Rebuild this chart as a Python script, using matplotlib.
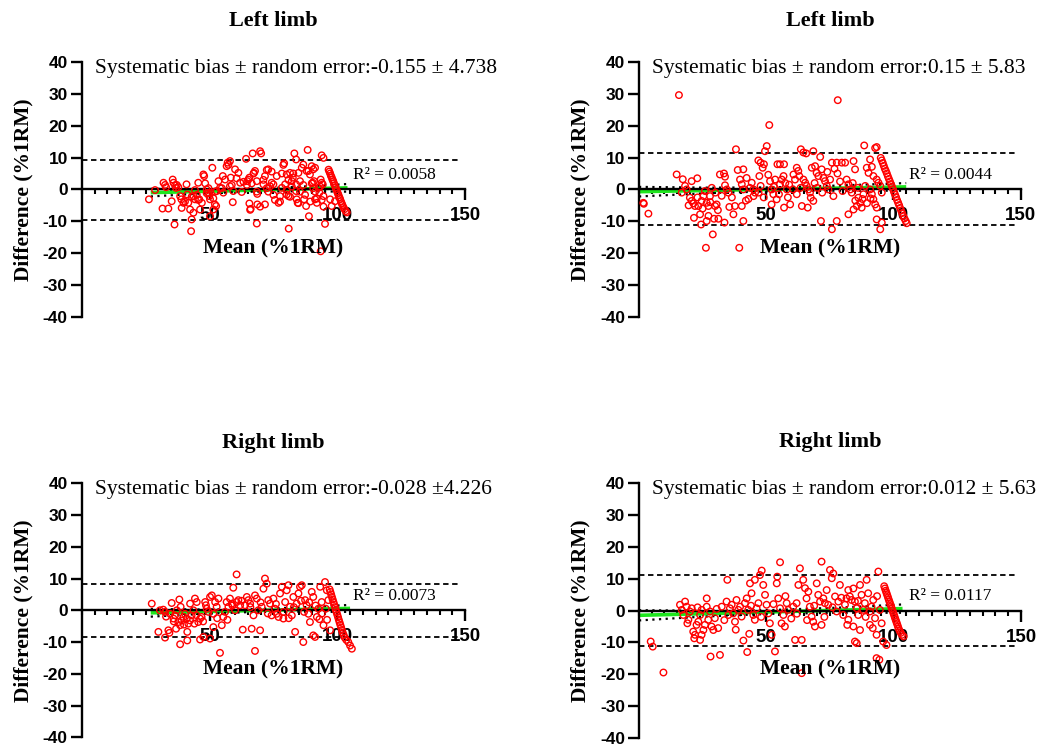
import numpy as np
import matplotlib
matplotlib.use("Agg")
import matplotlib.pyplot as plt
from matplotlib.ticker import MultipleLocator

plt.rcParams["axes.unicode_minus"] = False

SANS = "Liberation Sans"
SERIF = "Liberation Serif"

# ---- data: (mean %1RM, difference %1RM) ----
tl_points = [
    (26.3, -3.1), (28.7, -0.2), (32.0, 2.1), (32.6, 1.4), (33.0, 0.7), (31.6, -6.0), (33.9, -6.0),
    (35.6, 3.1), (35.9, 2.1), (36.5, 1.3), (36.9, 0.5), (35.2, -3.7), (36.3, -11.0), (38.5, -2.1),
    (39.0, -3.1), (39.1, -5.8), (39.8, -4.2), (41.0, 1.6), (41.3, -1.6), (42.4, -6.3), (43.0, -9.4),
    (42.8, -13.1), (41.7, -4.2), (43.7, -7.3), (45.6, 2.1), (46.0, -3.1), (47.0, -4.2), (47.6, 4.7),
    (47.9, 4.2), (46.3, -6.3), (43.7, -2.1), (44.3, -3.1), (48.9, 0.0), (49.5, -1.0), (49.9, -2.1),
    (50.2, -3.1), (50.2, -8.4), (51.5, -6.3), (52.1, -4.7), (52.6, -5.2), (51.1, 6.8), (52.8, -0.5),
    (53.5, 2.6), (54.1, 0.5), (55.2, 4.2), (55.4, -1.0), (56.7, 7.3), (57.1, 8.4), (58.0, 8.9),
    (56.1, 3.1), (58.0, 1.0), (58.3, 3.7), (59.1, -4.0), (59.3, -0.5), (60.0, 6.3), (61.3, 5.2),
    (62.0, 2.1), (62.6, -0.8), (64.3, 9.6), (64.8, 2.6), (65.2, 3.1), (65.6, 3.7), (65.6, -4.4),
    (66.1, -6.1), (66.9, 11.3), (67.4, 5.2), (67.8, 5.8), (68.5, 2.6), (68.7, -1.4), (68.5, -10.7),
    (68.7, -4.7), (69.8, 12.0), (70.2, 11.3), (71.1, 1.6), (71.7, 4.2), (71.7, -4.7), (72.4, 6.1),
    (73.0, 6.3), (73.7, 1.0), (74.3, 2.1), (75.0, 1.6), (76.3, 4.2), (77.0, -4.2), (77.6, -2.1),
    (78.3, 0.5), (79.2, 8.2), (79.6, 1.6), (80.2, 4.7), (81.0, -12.3), (80.2, -1.6), (80.9, -2.1),
    (81.5, 5.2), (82.2, 2.6), (82.6, 3.7), (83.2, 11.3), (83.9, 9.4), (83.9, 1.6), (83.9, -0.5),
    (84.1, -3.1), (84.5, -4.2), (84.8, 5.2), (85.4, 2.6), (86.1, 6.8), (86.7, 7.8), (87.0, -3.1),
    (87.8, -5.2), (88.0, 5.8), (88.7, 5.8), (89.3, 4.7), (88.4, 12.4), (88.9, -8.4), (90.0, 7.3),
    (90.6, 6.3), (91.3, 6.8), (90.4, 2.1), (90.9, 2.6), (91.3, -3.1), (92.0, -4.2), (92.6, 0.5),
    (93.0, -1.0), (93.5, -19.4), (93.9, 10.7), (94.6, 9.9), (93.5, 3.1), (93.9, 2.1), (94.3, 1.6),
    (94.6, -2.1), (95.2, -10.8), (97.2, -3.1), (97.8, -5.2), (99.1, -3.7),
    (37.2, 1.4), (37.8, 0.7), (40.4, -3.8), (43.0, -2.3), (44.3, -0.2), (45.0, -1.7), (45.6, -3.3),
    (48.3, 1.9), (48.9, -1.2), (49.6, 0.4), (51.5, -2.8), (52.2, -0.7), (54.8, 0.4), (57.4, 7.7),
    (58.7, 1.4), (60.6, 3.5), (63.3, 2.4), (64.6, 1.4), (65.9, -6.4), (66.5, 1.9), (67.2, 5.0),
    (68.5, -0.7), (69.8, -5.4), (71.1, 3.0), (72.4, 0.4), (73.0, -0.7), (74.3, 5.6), (75.0, -1.7),
    (75.6, -3.3), (77.6, -3.8), (78.3, 5.0), (78.9, 7.7), (80.2, -0.2), (80.9, 3.0), (81.5, -2.3),
    (82.2, 0.9), (82.8, 5.0), (84.8, -4.3), (85.4, -0.7), (86.7, 1.4), (87.4, -1.7), (89.4, -3.8),
    (90.0, 1.9), (90.6, 0.4), (91.3, -0.7), (92.0, -2.8), (93.3, 0.9), (93.9, -3.3), (94.6, -5.4),
]
tl_streak = [
    (96.6, 6.2), (96.9, 5.6), (97.2, 5.0), (97.5, 4.3), (97.8, 3.8), (98.1, 3.1), (98.4, 2.6),
    (98.7, 1.9), (99.0, 1.3), (99.3, 0.6), (99.6, 0.1), (99.9, -0.6), (100.2, -1.2), (100.5, -1.8),
    (100.8, -2.5), (101.1, -3.0), (101.4, -3.7), (101.7, -4.3), (102.0, -4.9), (102.4, -5.6),
    (102.8, -6.2), (103.3, -6.8), (103.7, -7.2),
]

tr_points = [
    (15.7, 29.6), (78.1, 28.0), (51.2, 20.2), (1.7, -4.2), (1.9, -4.5), (3.7, -7.6), (14.8, 4.7),
    (17.2, 3.2), (18.1, 1.1), (18.7, 0.0), (16.8, -1.0), (20.0, -2.6), (20.7, -3.6), (21.4, -4.4),
    (22.0, -5.2), (20.7, 2.6), (22.9, 3.5), (21.6, -8.9), (24.0, -7.8), (24.4, -11.0), (23.3, -5.2),
    (24.6, -3.6), (25.3, -2.1), (25.9, -0.5), (26.6, -4.2), (27.3, -5.2), (27.9, -2.1), (28.6, 0.5),
    (26.6, -9.9), (27.3, -8.3), (29.0, -14.1), (26.3, -18.3), (29.5, -9.2), (31.2, -9.2),
    (29.9, -5.2), (30.5, -4.7), (31.8, 4.7), (33.4, 5.0), (33.8, 4.0), (33.8, 1.3), (34.5, 0.0),
    (35.1, -1.0), (33.6, -10.4), (37.1, -7.8), (37.7, -5.2), (38.1, 12.6), (38.8, 6.1), (41.0, 6.3),
    (39.7, 3.1), (40.4, 1.6), (41.0, 0.0), (42.3, 3.6), (39.4, -18.3), (40.4, -5.2), (41.0, -9.9),
    (43.6, 0.5), (44.3, 2.1), (45.0, -2.1), (45.6, -1.0), (46.9, 9.1), (47.8, 8.4), (47.3, 4.2),
    (47.8, 1.1), (48.6, 6.8), (49.1, 7.9), (49.5, 12.0), (50.2, 13.6), (50.8, 4.6), (51.5, 2.6),
    (52.1, 0.0), (52.8, -1.5), (53.5, 3.1), (52.1, -4.7), (54.1, -3.1), (54.4, 7.9), (55.4, 7.9),
    (57.0, 7.9), (55.4, 1.6), (56.1, 3.1), (56.8, 4.2), (58.1, 0.0), (57.0, -5.7), (59.4, -4.7),
    (60.7, 4.7), (61.3, 3.1), (62.0, 6.8), (62.6, 5.8), (63.0, 4.2), (63.6, 12.6), (64.6, 11.6),
    (65.7, 11.3), (68.5, 12.0), (71.2, 10.2), (64.0, -5.2), (66.3, -5.7), (64.6, 3.1), (65.3, 2.1),
    (65.9, 1.1), (66.6, 0.0), (67.2, -1.0), (67.9, 6.8), (69.2, 7.3), (69.8, 5.2), (70.5, 4.2),
    (71.8, 6.3), (67.5, -2.6), (68.5, -3.6), (71.5, -9.9), (72.5, 3.6), (73.1, 2.6), (73.8, 1.1),
    (74.4, 0.0), (75.1, 3.1), (75.8, 8.4), (77.7, 8.4), (79.7, 8.4), (81.0, 8.4), (76.4, -2.1),
    (77.7, -9.9), (75.8, -12.5), (81.6, 3.1), (82.3, 1.6), (83.0, 0.0), (83.6, -1.0), (84.3, 8.9),
    (84.9, 6.3), (82.3, -7.8), (84.3, -6.3), (85.6, -5.2), (86.2, -2.6), (86.9, -4.2), (87.5, -5.7),
    (88.2, -1.5), (88.9, 1.1), (88.5, 13.8), (90.8, 9.4), (92.8, 13.0), (93.4, 13.3), (89.5, 6.8),
    (90.2, 5.2), (91.5, 7.1), (92.1, 4.2), (90.8, 0.0), (91.5, -1.5), (92.1, -3.1), (92.8, -4.7),
    (93.4, -5.7), (93.4, -9.4), (94.8, -12.5), (95.4, -10.4), (93.4, 3.1), (94.1, 2.1), (94.8, 1.1),
    (95.4, -1.0),
    (85.0, -3.5), (87.8, -3.0), (89.6, -4.3), (91.0, -2.8), (86.0, 0.5), (84.0, 2.0), (80.0, -0.5),
    (79.0, 2.5), (78.0, 5.0), (76.8, 6.5), (74.0, 5.5), (72.0, -1.0), (70.0, 0.5), (69.0, 2.0),
    (63.5, 0.5), (62.0, -1.5), (60.5, 0.0), (59.0, 1.5), (58.5, -2.5), (57.5, 2.0), (55.0, -1.5),
    (53.0, 0.8), (49.0, -2.5), (47.0, -1.0), (45.0, 0.0), (43.0, -3.0), (36.5, -2.5), (32.5, -2.0),
    (30.0, -1.0), (28.0, -4.0), (25.0, -6.0), (23.0, -2.5), (19.5, -5.0), (31.0, -6.5), (35.5, -5.5),
    (42.0, -3.5),
]
tr_streak = [
    (95.0, 9.9), (95.4, 9.1), (95.8, 8.3), (96.2, 7.4), (96.6, 6.5), (97.0, 5.8), (97.4, 5.0),
    (97.8, 4.1), (98.2, 3.3), (98.6, 2.5), (99.0, 1.7), (99.4, 0.9), (99.8, 0.1), (100.2, -0.8),
    (100.6, -1.6), (101.0, -2.4), (101.4, -3.3), (101.8, -4.1), (102.2, -4.9), (102.6, -5.8),
    (103.0, -6.6), (103.4, -7.4), (103.8, -8.3), (104.3, -9.1), (104.8, -9.9), (105.2, -10.6),
]

bl_points = [
    (27.4, 2.1), (30.0, -6.8), (32.6, -8.6), (33.9, -6.3), (34.3, -7.1), (30.6, 0.0), (31.9, 0.2),
    (32.6, -0.5), (34.6, -1.1), (35.2, 2.3), (35.9, -2.6), (36.5, -1.6), (37.2, 0.0), (37.8, -3.7),
    (38.5, -4.7), (39.1, -3.2), (38.2, 3.4), (38.7, 1.1), (36.9, -5.8), (38.5, -10.7), (41.3, -9.5),
    (41.3, -6.8), (39.8, -2.1), (40.4, -1.1), (41.1, -2.6), (41.7, -4.2), (42.4, -3.2), (43.0, -1.6),
    (42.4, 2.1), (43.7, 0.0), (44.3, 3.7), (45.0, 2.6), (44.1, -4.2), (45.6, -3.7), (46.3, -2.6),
    (46.9, -2.1), (46.3, -9.2), (47.6, -8.4), (50.2, -8.9), (51.5, -5.3), (48.3, 2.6), (48.6, 1.6),
    (48.9, 0.5), (49.6, -0.5), (50.2, 4.2), (50.9, 4.7), (51.5, -1.1), (52.2, 2.6), (52.8, 1.1),
    (53.5, 3.7), (54.1, -13.4), (54.8, -4.7), (55.4, -2.1), (56.1, -0.5), (56.7, 2.6), (57.4, 1.1),
    (58.0, 3.7), (58.7, 2.1), (59.3, 7.1), (60.6, 11.3), (60.0, 0.0), (60.6, 2.6), (61.3, 3.2),
    (62.0, 1.6), (63.0, -6.1), (63.9, 1.6), (64.6, 4.2), (65.2, 3.2), (65.9, 2.1), (66.5, -5.8),
    (67.2, -1.6), (67.8, -12.8), (67.8, 4.7), (68.5, 3.7), (69.1, 0.0), (69.8, -6.3), (70.4, 1.1),
    (71.1, 6.8), (71.7, 10.0), (72.4, 8.4), (73.0, 3.2), (73.7, 2.1), (74.3, -1.6), (75.0, 3.7),
    (75.6, 0.5), (76.3, -1.1), (77.0, -2.1), (77.6, 5.3), (78.3, 7.4), (78.9, -2.6), (79.6, 2.6),
    (80.2, 6.3), (80.9, 7.9), (81.5, 1.1), (82.2, -1.6), (82.8, 4.2), (83.5, -6.8), (84.1, 2.1),
    (84.8, 5.3), (85.4, 7.4), (86.1, 7.9), (86.7, -10.0), (87.4, 3.2), (88.0, 1.6), (88.7, -1.1),
    (89.3, -3.7), (90.0, 5.8), (90.6, 4.2), (90.6, -7.9), (91.3, -8.4), (92.0, -2.1), (92.6, 0.5),
    (93.3, 7.4), (93.9, 2.6), (94.6, -4.7), (95.2, 8.9), (95.9, 6.3), (96.5, 3.2), (97.2, -6.3),
    (33.0, -2.0), (36.0, -3.5), (40.0, -4.5), (44.8, -1.5), (47.5, -3.5), (53.0, -2.5), (57.0, -3.0),
    (59.0, 1.5), (62.5, 3.0), (66.0, 1.0), (70.0, 2.5), (72.8, -1.0), (76.0, 2.0), (79.0, -0.5),
    (81.0, -2.5), (83.0, 1.0), (85.8, 3.0), (87.0, -0.5), (89.0, 2.5), (91.5, 1.5), (93.0, -2.8),
    (94.0, -1.0), (95.5, 0.5), (96.0, -3.0),
]
bl_streak = [
    (97.0, 6.6), (97.3, 5.8), (97.6, 5.0), (97.9, 4.2), (98.2, 3.4), (98.5, 2.6), (98.8, 1.8),
    (99.1, 1.0), (99.4, 0.2), (99.7, -0.6), (100.0, -1.4), (100.3, -2.2), (100.6, -3.0),
    (100.9, -3.8), (101.2, -4.6), (101.5, -5.4), (101.8, -6.2), (102.1, -7.0), (102.5, -7.8),
    (102.9, -8.6), (103.5, -9.3), (104.3, -10.0), (105.0, -11.1), (105.7, -12.1),
]

br_points = [
    (4.6, -9.7), (5.4, -11.3), (9.6, -19.4), (16.1, 1.8), (16.8, 0.2), (17.4, -1.4), (18.1, 2.8),
    (18.7, 1.2), (19.4, -2.9), (20.0, -0.3), (20.7, 0.7), (21.3, -6.6), (21.7, -8.7), (22.0, -7.6),
    (22.6, -4.5), (23.3, -3.5), (24.0, -9.2), (24.6, -7.6), (25.3, -6.1), (25.9, -4.5), (26.6, 3.8),
    (24.0, -1.4), (24.6, 0.2), (26.6, 1.2), (27.2, -2.9), (27.9, -0.3), (28.1, -14.4), (31.8, -13.9),
    (28.5, -5.0), (29.2, -6.1), (29.8, -2.4), (31.1, -5.5), (32.5, 1.2), (34.4, 2.8), (34.7, 9.6),
    (35.1, -1.4), (35.7, 0.7), (36.4, 1.8), (37.0, -0.9), (37.7, -3.5), (38.3, 3.3), (39.0, 0.2),
    (39.7, 1.2), (40.3, -1.9), (41.0, -9.4), (41.6, 2.3), (42.3, 3.8), (42.9, 0.2), (43.3, -7.3),
    (42.5, -13.0), (43.6, 8.5), (44.2, 5.4), (44.9, -1.4), (45.5, -2.9), (46.2, 0.7), (46.9, 2.3),
    (45.5, 9.6), (48.2, 12.5), (48.8, 8.0), (47.5, 11.1), (49.5, 4.9), (50.1, 1.8), (50.8, -0.9),
    (51.4, -4.0), (52.1, -7.6), (53.4, -12.8), (54.1, 8.5), (54.3, 10.6), (54.7, 3.8), (55.4, 0.7),
    (56.0, -4.0), (55.4, 15.1), (56.7, -1.4), (57.3, -5.0), (58.0, 2.3), (58.6, 0.2), (60.6, 1.2),
    (61.3, -9.2), (61.9, 2.3), (62.6, 8.0), (63.2, 13.2), (63.9, -9.2), (63.9, -19.6), (64.5, 9.6),
    (65.2, 7.0), (65.8, 3.8), (66.5, 5.9), (67.1, 1.2), (67.8, -1.9), (68.4, -3.5), (69.1, -5.0),
    (69.8, 8.5), (70.4, 4.9), (71.1, 2.8), (71.7, -4.5), (71.7, 15.3), (72.4, 3.8), (73.0, 2.3),
    (73.7, 6.4), (74.3, 1.8), (75.0, 12.7), (75.7, 10.1), (76.3, 11.6), (77.0, 4.4), (77.6, -0.3),
    (78.3, 2.8), (78.9, 8.0), (80.2, -1.4), (80.9, 1.8), (81.5, 3.8), (82.2, 6.4), (82.8, 4.4),
    (83.5, 3.3), (82.2, -2.9), (84.2, -5.0), (84.8, -9.7), (85.5, -10.2), (84.2, 6.9), (84.8, 2.8),
    (85.5, 0.7), (86.1, -1.4), (86.8, 8.0), (87.4, 4.9), (86.8, -6.1), (88.1, 0.2), (88.7, 2.3),
    (89.4, 9.6), (90.0, 5.4), (90.7, -0.3), (90.7, -4.5), (91.3, 1.2), (92.0, 3.3), (92.7, -2.4),
    (93.3, -7.6), (94.0, 12.2), (93.3, -14.9), (94.4, -15.4), (94.6, 0.2), (95.3, -4.0),
    (95.9, -9.7), (97.2, -10.8),
    (19.0, -4.0), (23.0, 1.0), (30.5, 0.5), (33.5, -3.0), (38.0, -6.0), (44.0, 1.5), (48.0, -2.0),
    (52.8, 2.0), (57.5, 4.5), (59.8, -2.5), (62.0, -1.0), (66.0, -3.0), (68.8, 1.5), (72.8, -2.0),
    (76.0, 1.0), (79.5, 4.0), (81.8, -4.5), (86.0, 3.0), (89.0, -2.0), (91.8, -5.5), (93.5, 4.5),
]
br_streak = [
    (96.3, 7.6), (96.6, 6.9), (96.9, 6.2), (97.2, 5.5), (97.5, 4.8), (97.8, 4.1), (98.1, 3.4),
    (98.4, 2.7), (98.7, 2.0), (99.0, 1.3), (99.3, 0.6), (99.6, -0.1), (99.9, -0.8), (100.2, -1.5),
    (100.5, -2.2), (100.8, -2.9), (101.1, -3.6), (101.4, -4.3), (101.7, -5.0), (102.0, -5.7),
    (102.4, -6.4), (102.8, -7.0), (103.3, -7.6), (103.9, -8.1),
]

titles = ["Left limb", "Left limb", "Right limb", "Right limb"]
bias = [-0.155, 0.15, -0.028, 0.012]
sd = [4.738, 5.83, 4.226, 5.63]
bias_texts = [
    "Systematic bias \u00b1 random error:-0.155 \u00b1 4.738",
    "Systematic bias \u00b1 random error:0.15 \u00b1 5.83",
    "Systematic bias \u00b1 random error:-0.028 \u00b14.226",
    "Systematic bias \u00b1 random error:0.012 \u00b1 5.63",
]
r2_values = ["0.0058", "0.0044", "0.0073", "0.0117"]

# regression line and its confidence band, read at a few x positions
fit_x = [[27, 46, 65, 85, 104], [0, 26, 52, 78, 105], [27, 47, 66, 86, 105], [0, 26, 52, 78, 103.5]]
fit_y = [[-1.0, -0.63, -0.26, 0.13, 0.5], [-0.7, -0.33, 0.04, 0.41, 0.8],
         [-0.8, -0.44, -0.1, 0.25, 0.6], [-1.5, -0.97, -0.44, 0.09, 0.6]]
band_lo = [[-2.2, -1.33, -0.71, -0.57, -0.7], [-2.2, -1.23, -0.56, -0.39, -0.4],
           [-2.0, -1.14, -0.55, -0.45, -0.5], [-3.1, -1.87, -1.04, -0.71, -0.7]]
band_hi = [[0.2, 0.07, 0.19, 0.83, 1.7], [0.8, 0.57, 0.64, 1.21, 2.0],
           [0.4, 0.26, 0.35, 0.95, 1.7], [0.1, -0.07, 0.16, 0.89, 1.9]]

panel_points = [tl_points + tl_streak, tr_points + tr_streak,
                bl_points + bl_streak, br_points + br_streak]

# axes rectangles in figure fractions [left, bottom, width, height]
positions = [
    [0.0774, 0.5757, 0.3630, 0.3414],
    [0.6051, 0.5757, 0.3615, 0.3414],
    [0.0774, 0.0130, 0.3630, 0.3400],
    [0.6051, 0.0116, 0.3617, 0.3422],
]


def draw_panel(ax, i):
    pts = np.array(panel_points[i])
    upper = bias[i] + 1.96 * sd[i]
    lower = bias[i] - 1.96 * sd[i]

    ax.axhline(upper, xmax=0.99, color="black", lw=1.3, ls=(0, (3, 2)), zorder=1)
    ax.axhline(lower, xmax=0.99, color="black", lw=1.3, ls=(0, (3, 2)), zorder=1)

    ax.plot(fit_x[i], fit_y[i], color="#1ee61e", lw=2.6, zorder=2, solid_capstyle="butt")
    ax.plot(fit_x[i], band_lo[i], color="black", lw=1.6, ls=(0, (1, 2)), zorder=2)
    ax.plot(fit_x[i], band_hi[i], color="black", lw=1.6, ls=(0, (1, 2)), zorder=2)

    ax.scatter(pts[:, 0], pts[:, 1], s=22, facecolors="none", edgecolors="#ff0000",
               linewidths=1.0, zorder=3)

    ax.set_xlim(0, 150)
    ax.set_ylim(-40, 40)
    for side in ("top", "right"):
        ax.spines[side].set_visible(False)
    ax.spines["bottom"].set_position(("data", 0))
    ax.spines["left"].set_linewidth(1.7)
    ax.spines["bottom"].set_linewidth(1.7)
    ax.set_facecolor("none")

    ax.set_yticks(range(-40, 41, 10))
    ax.set_xticks([50, 100, 150])
    ax.xaxis.set_minor_locator(MultipleLocator(5))
    ax.tick_params(axis="y", direction="out", length=8, width=1.7, pad=2, labelsize=12.5)
    ax.tick_params(axis="x", which="major", direction="out", length=8, width=1.7, pad=5,
                   labelsize=13.5)
    ax.tick_params(axis="x", which="minor", direction="out", length=3.5, width=1.5)
    for lab in ax.get_xticklabels() + ax.get_yticklabels():
        lab.set_fontfamily(SANS)
        lab.set_fontweight("bold")

    ax.text(0.5, 1.16, titles[i], transform=ax.transAxes, ha="center", va="center",
            fontsize=16, fontweight="bold", family=SERIF)
    ax.text(5, 37.9, bias_texts[i], ha="left", va="center", fontsize=15.5, family=SERIF)
    ax.text(106.2, 4.6, "R\u00b2 = " + r2_values[i], ha="left", va="center", fontsize=12.5,
            family=SERIF)
    ax.text(75, -18.5, "Mean (%1RM)", ha="center", va="center", fontsize=15.5,
            fontweight="bold", family=SERIF)
    ax.text(-0.153, 0.5, "Difference (%1RM)", transform=ax.transAxes, rotation=90,
            ha="center", va="center", fontsize=15.5, fontweight="bold", family=SERIF)


fig = plt.figure(figsize=(10.56, 7.47), dpi=100)
for i, rect in enumerate(positions):
    ax = fig.add_axes(rect)
    draw_panel(ax, i)

fig.savefig("out.png", dpi=100)
plt.close(fig)
